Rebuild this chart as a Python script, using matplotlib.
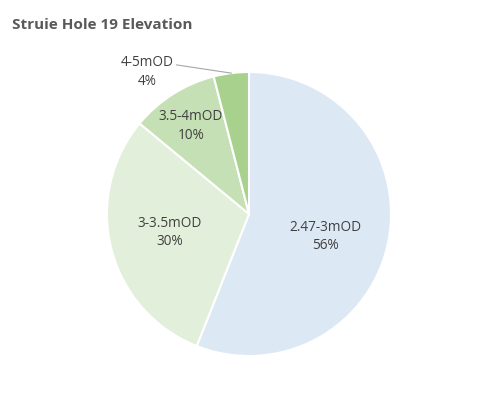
import matplotlib as mpl
mpl.use('Agg')
import matplotlib.pyplot as plt
import numpy as np

plt.rcParams['font.family'] = ['Open Sans', 'DejaVu Sans']

labels = ['2.47-3mOD', '3-3.5mOD', '3.5-4mOD', '4-5mOD']
shares = [56, 30, 10, 4]
colors = ['#DDE8F5', '#E2EFDA', '#C5E0B4', '#A9D18E']

fig = plt.figure(figsize=(5, 3.97), dpi=100)
fig.text(12 / 500, 1 - 25 / 397, 'Struie Hole 19 Elevation', fontsize=11,
         fontweight='bold', color='#595959', va='center', ha='left')

ax = fig.add_axes([107 / 500, 41 / 397, 284 / 500, 284 / 397])
wedges, _ = ax.pie(shares, colors=colors, startangle=90, counterclock=False,
                   radius=1, wedgeprops=dict(edgecolor='white', linewidth=1.5))
ax.set_xlim(-1, 1)
ax.set_ylim(-1, 1)
ax.set_aspect('equal')
ax.axis('off')

# where each data label sits (pie units)
label_pos = [(0.54, -0.16), (-0.56, -0.13), (-0.41, 0.62), (-0.72, 1.0)]
for w, lab, s, (tx, ty) in zip(wedges, labels, shares, label_pos):
    ax.text(tx, ty, '%s\n%d%%' % (lab, s), ha='center', va='center',
            fontsize=9.8, color='#404040', linespacing=1.3, clip_on=False)

# leader line for the small slice
w = wedges[3]
ang = np.deg2rad((w.theta1 + w.theta2) / 2)
ax.plot([-0.51, np.cos(ang)], [1.05, np.sin(ang)],
        color='#A6A6A6', lw=0.8, clip_on=False)

fig.savefig('out.png', dpi=100)
